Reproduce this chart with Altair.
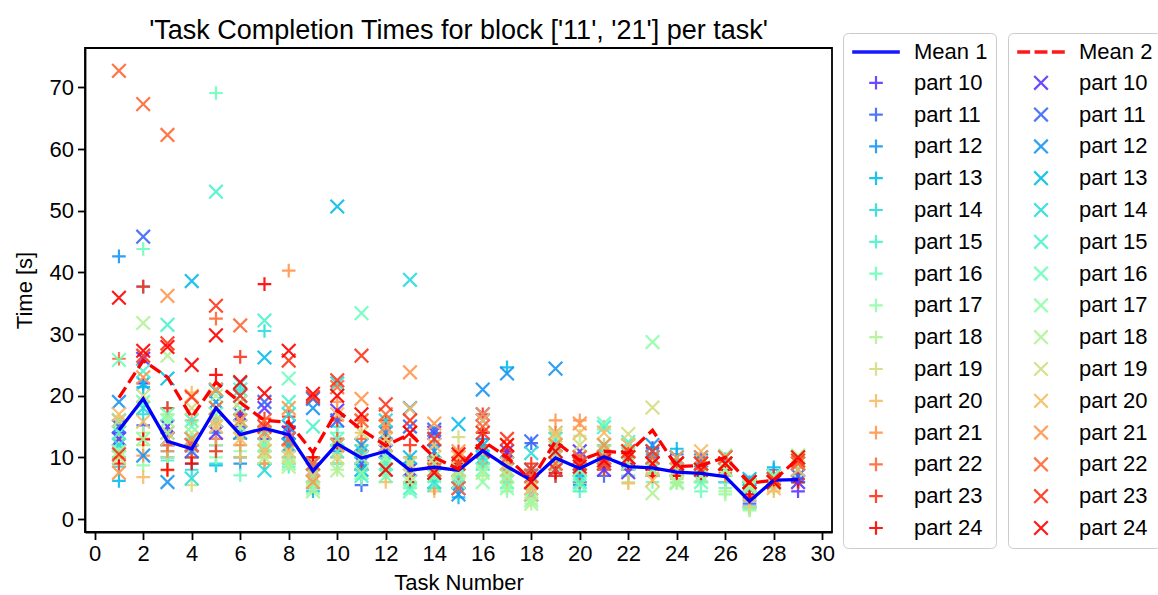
import altair as alt
import pandas as pd

FONT = "Liberation Sans"

tasks = list(range(1, 30))
parts = [f"part {i}" for i in range(10, 25)]
part_colors = ["#5e35fe", "#3b68f9", "#1a96f3", "#08bde9", "#2bdddd", "#4df3ce", "#6efebd",
               "#91feab", "#b3f396", "#d5dd80", "#f7bd68", "#ff964f", "#ff6835", "#ff351b", "#ff0000"]

mean1 = [14.4, 19.5, 12.6, 11.4, 18.0, 13.7, 14.7, 13.7, 7.8, 12.2, 9.9, 11.0, 7.9, 8.4, 7.9,
         11.1, 8.5, 6.3, 9.9, 8.2, 10.1, 8.5, 8.3, 7.6, 7.4, 6.9, 2.9, 6.3, 6.4]
mean2 = [19.7, 25.7, 23.0, 16.5, 22.2, 18.9, 16.0, 15.7, 10.8, 17.6, 14.5, 11.9, 13.8, 10.0, 8.1,
         12.7, 10.0, 6.3, 12.6, 9.5, 11.0, 10.7, 14.4, 8.5, 8.7, 10.0, 5.8, 6.3, 9.8]

# one row per task, values for part 10 ... part 24 (block 1, '+')
block1_times = [
    [14, 13, 42.6, 6.2, 8.5, 12, 11, 11, 15, 13, 16, 10, 26, 9, 10],
    [22, 15.2, 37.7, 21.4, 17, 19, 43.8, 8.7, 14, 12, 6.8, 10.3, 13, 37.7, 12.9],
    [12, 14, 10, 11, 18, 9.5, 12, 16, 10, 17, 7.9, 11, 12, 18, 8],
    [11, 12, 10, 9, 8, 13, 12, 10, 11, 5.5, 20.5, 16, 12, 10, 9],
    [13, 12, 14, 8.7, 9, 11, 69.1, 10, 12, 15, 16, 13, 32.5, 11, 23.4],
    [15, 13, 9, 10, 21, 12, 7.1, 11, 14, 13, 10, 12, 16, 26.3, 17],
    [13, 11, 9, 12, 30.5, 10, 14, 9, 12, 10, 11, 9, 15, 16.3, 38.1],
    [12, 10, 11, 9, 13, 8.5, 10, 12, 9, 11, 14, 40.3, 12, 16.6, 15],
    [8, 6, 5, 4.5, 9, 7, 8, 10, 6, 9, 7, 8, 9, 10, 10],
    [13, 11, 9, 12, 15, 10, 14, 9, 8, 12, 10, 19, 13, 16, 12],
    [9, 5.5, 8, 11, 10, 7, 9, 6.5, 8, 12, 14, 11, 13, 16, 8],
    [10, 12, 9, 13, 11, 8, 10, 7, 9, 12, 6, 14, 15, 16, 13],
    [6, 8, 7, 10, 9, 6, 5, 7, 8, 9, 10, 8, 7, 12, 6],
    [9, 10, 12, 14, 7, 5, 8, 6, 9, 8, 4.5, 5, 10, 9, 9.5],
    [7, 6, 5, 3.5, 9, 8, 7, 6, 8, 13.3, 10, 9, 7, 11, 9],
    [12, 10, 13, 14, 11, 9, 8, 10, 7, 9, 11, 9, 12, 17, 14],
    [10, 8, 6, 24.6, 7, 5, 6, 4.5, 5, 7, 6, 8, 9, 10, 11],
    [5, 12.3, 7, 8, 6, 5, 4, 3, 2.5, 5, 6, 7, 8, 9, 7],
    [9, 8, 7, 11, 12, 10, 9, 8, 9, 10, 11, 16, 14, 7, 7.5],
    [7, 6, 5.5, 7, 9, 4.5, 6, 8, 13.5, 9, 8, 16, 10, 6, 8],
    [9, 7, 11, 12, 10, 11, 9, 8, 10, 12, 15, 9, 10, 8, 9],
    [8, 7, 9, 10, 11, 8, 9, 7, 6, 8, 5.8, 9, 10, 11, 9],
    [11.5, 10, 9, 10.5, 8, 7, 6, 7, 8, 9, 7.5, 8, 8, 8, 7],
    [7, 10.5, 8, 11.4, 9, 7, 6, 5.8, 6, 7, 6.5, 7, 7, 8, 7],
    [8, 10, 9, 8, 7, 6, 4.5, 6, 7, 7.5, 8, 7, 8, 7, 7],
    [7, 6, 8, 9.7, 7, 6, 5, 4, 4.5, 7, 8, 7, 7.5, 8, 8],
    [2, 2.5, 3, 6, 2, 1.8, 1.5, 1.4, 1.5, 2, 3, 3.5, 4, 3.5, 4],
    [6, 7, 8, 8.4, 7, 6, 5, 5, 6, 5.5, 4.5, 6, 6, 7, 6],
    [4.5, 6, 7, 6, 6.5, 6, 7, 8.5, 7, 6.5, 6, 6, 6.5, 6.5, 6],
]

# one row per task, values for part 10 ... part 24 (block 2, 'x')
block2_times = [
    [13, 15, 19, 16, 12, 14, 25.8, 11, 10, 16, 17, 7.5, 72.7, 10.5, 35.9],
    [26, 45.8, 10.3, 22, 18, 24, 19, 13, 31.8, 20, 15.8, 23, 67.3, 26.5, 27.3],
    [15, 13, 6, 22.8, 14, 31.5, 17, 16, 26.5, 14, 13, 36.2, 62.3, 28.5, 27.9],
    [12, 11, 13, 38.6, 6.6, 16, 15, 13, 14, 18, 20, 13, 12, 19.8, 25],
    [14, 16, 19, 20.8, 21, 53.1, 18, 17, 20, 16, 15, 21, 18, 34.6, 29.8],
    [17, 20, 14, 19, 22, 21, 16, 18, 15, 19, 13, 16, 31.4, 20, 22.2],
    [18, 19, 14, 26.2, 7.9, 32.2, 12, 11, 10, 13, 11, 14, 16, 15, 20.4],
    [14, 13, 15, 12, 17, 19, 22.8, 9, 8.5, 10, 11, 18, 13, 25.7, 27.3],
    [8, 19.5, 18, 7, 9, 15, 6, 5, 4.5, 7, 8, 6, 9, 19.8, 20.3],
    [17.6, 16, 12, 50.7, 22, 11, 13, 12, 7.9, 10, 17, 12, 21.4, 22.5, 20],
    [10, 9, 12, 8, 11, 7, 33.4, 7.5, 10, 14, 16, 19.5, 16, 26.5, 17],
    [11, 12, 14, 8, 16, 9, 7, 10, 8, 13, 12, 15, 17, 18.6, 8],
    [8, 15, 18, 10, 38.8, 5, 4.5, 6, 7, 9, 17.9, 23.8, 14, 16, 14],
    [14, 14.5, 11, 9, 6, 5.5, 7, 8, 10, 9, 12, 15.5, 8, 13, 7.5],
    [6, 5, 4, 15.4, 8, 7, 9, 6, 7.5, 8, 10, 11, 5, 9, 10.5],
    [17, 16, 21, 12, 10, 9, 8, 6, 7.5, 11, 16, 17, 15, 14, 11],
    [11, 10, 23.6, 8, 9, 7, 6, 5, 7, 8, 9, 12, 10, 13, 12],
    [4, 12.6, 7, 8, 10.7, 6, 5, 3, 2.5, 4, 5, 6, 7, 8, 6],
    [10, 8, 24.4, 12, 11, 13, 14, 9, 10, 13.5, 14, 12, 9, 8, 11],
    [11, 10, 8, 9, 7, 6, 5.5, 8, 9, 12, 14, 15.5, 10, 9, 8.5],
    [8, 9, 10, 11, 12, 14.9, 15.5, 10, 9, 11, 14, 12, 10, 9, 9.5],
    [7.6, 9, 10, 11, 12, 12.5, 11, 10, 9, 13.8, 12, 11, 10, 11, 10],
    [10, 11, 12, 11, 10, 9, 8, 28.7, 4.2, 18.1, 6.3, 9, 10, 11, 9],
    [9, 8, 9, 10, 10, 9, 6, 5.8, 6, 8, 9, 10, 9, 9, 9],
    [9, 10, 9.5, 8, 7, 7, 6, 8, 7, 9, 11, 10, 9, 9, 8],
    [10, 9, 10, 9, 8, 9, 8, 10.3, 8, 9, 9, 10, 10, 9, 9],
    [5, 6, 5.5, 6.5, 6, 5, 5.2, 5.5, 5.2, 6, 6, 6, 6, 6, 6],
    [6, 6.5, 7, 6, 7, 6, 6.5, 7, 6.5, 6, 5, 6, 6, 6.5, 6],
    [6, 7, 8, 9, 10, 9, 10, 10, 10.3, 9.5, 8, 9, 9, 9.5, 10],
]

x_ticks = list(range(0, 31, 2))
y_ticks = list(range(0, 71, 10))


def long_table(rows):
    recs = []
    for t, row in zip(tasks, rows):
        for p, v in zip(parts, row):
            recs.append({"task": t, "series": p, "time": v})
    return pd.DataFrame(recs)


df1 = long_table(block1_times)
df2 = long_table(block2_times)
dfm = pd.DataFrame({"task": tasks, "mean1": mean1, "mean2": mean2})

PLUS = "M-1,0H1M0,-1V1"
CROSS = "M-1,-1L1,1M-1,1L1,-1"
LINE = "M-3.5,-0.08H3.5M-3.5,0.08H3.5"
DASH = "M-3.5,-0.08H-1.6M-3.5,0.08H-1.6M-0.95,-0.08H0.95M-0.95,0.08H0.95M1.6,-0.08H3.5M1.6,0.08H3.5"

x_enc = alt.X("task:Q", scale=alt.Scale(domain=[-0.4, 30.4], nice=False, zero=False),
              axis=alt.Axis(values=x_ticks, title="Task Number", format="d"))
y_scale = alt.Scale(domain=[-2.1, 76.4], nice=False, zero=False)
y_axis = alt.Axis(values=y_ticks, title="Time [s]", format="d")


def legend(lx):
    return alt.Legend(title=None, orient="none", legendX=lx, legendY=-15, direction="vertical",
                      labelFont=FONT, labelFontSize=22, labelColor="black",
                      symbolSize=185, symbolStrokeWidth=2.2,
                      strokeColor="#cccccc", cornerRadius=5,
                      fillColor="white", padding=8, rowPadding=7.8,
                      symbolOffset=14, labelOffset=27, labelLimit=200)


pts1 = alt.Chart(df1).mark_point(filled=False, strokeWidth=2.2, size=185, opacity=0.9).encode(
    x=x_enc,
    y=alt.Y("time:Q", scale=y_scale, axis=y_axis),
    color=alt.Color("series:N", scale=alt.Scale(domain=["Mean 1"] + parts, range=["#0000ff"] + part_colors),
                    legend=legend(758)),
    shape=alt.Shape("series:N", scale=alt.Scale(domain=["Mean 1"] + parts, range=[LINE] + [PLUS] * 15),
                    legend=legend(758)),
)

pts2 = alt.Chart(df2).mark_point(filled=False, strokeWidth=2.2, size=185, opacity=0.9).encode(
    x=x_enc,
    y=alt.Y("time:Q", scale=y_scale, axis=y_axis),
    color=alt.Color("series:N", scale=alt.Scale(domain=["Mean 2"] + parts, range=["#ff0000"] + part_colors),
                    legend=legend(923)),
    shape=alt.Shape("series:N", scale=alt.Scale(domain=["Mean 2"] + parts, range=[DASH] + [CROSS] * 15),
                    legend=legend(923)),
)

line1 = alt.Chart(dfm).mark_line(color="#0000ff", strokeWidth=3.3).encode(
    x=x_enc, y=alt.Y("mean1:Q", scale=y_scale, axis=y_axis))
line2 = alt.Chart(dfm).mark_line(color="#ff0000", strokeWidth=3.3, strokeDash=[12.3, 5.3]).encode(
    x=x_enc, y=alt.Y("mean2:Q", scale=y_scale, axis=y_axis))

chart = alt.layer(pts1, pts2, line1, line2).resolve_scale(
    color="independent", shape="independent"
).properties(
    width=747, height=484,
    padding={"left": 85, "top": 48, "right": 326, "bottom": 63},
    autosize=alt.AutoSizeParams(type="none"),
    title=alt.TitleParams("'Task Completion Times for block ['11', '21'] per task'",
                          font=FONT, fontSize=27, fontWeight="normal", color="black",
                          anchor="middle", baseline="alphabetic", offset=8, frame="group", dy=41),
).configure_view(stroke="black", strokeWidth=1.8).configure_axis(
    labelFont=FONT, titleFont=FONT, labelFontSize=22, titleFontSize=22,
    labelColor="black", titleColor="black", titleFontWeight="normal",
    domainColor="black", domainWidth=1.8, tickColor="black", tickWidth=1.8, tickSize=7.5,
    grid=False, labelPadding=4,
).configure_axisX(titlePadding=8).configure_axisY(titlePadding=13)

chart.save("out.html", embed_options={"renderer": "svg", "actions": False})
